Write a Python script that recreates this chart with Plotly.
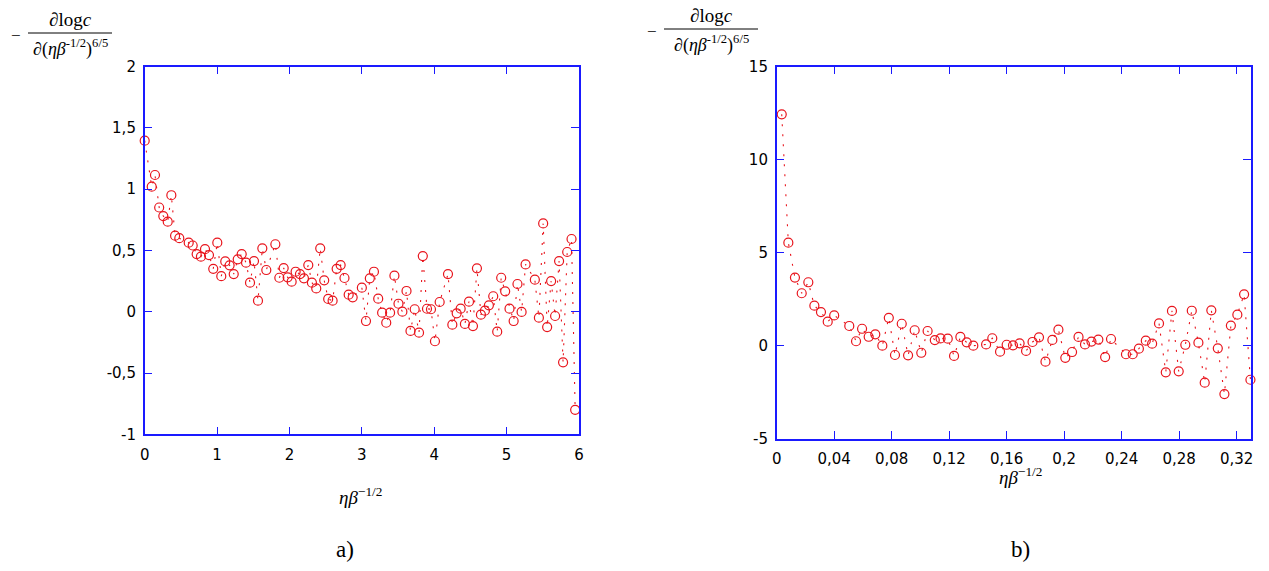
import plotly.graph_objects as go

W, H = 1269, 571

# ---- data: left panel (a) ----
xa = [0, 0.097, 0.142, 0.20, 0.257, 0.318, 0.368, 0.42, 0.478, 0.608, 0.663, 0.718, 0.777,
      0.833, 0.888, 0.947, 1.003, 1.058, 1.113, 1.173, 1.23, 1.285, 1.34, 1.40, 1.455, 1.51,
      1.565, 1.625, 1.68, 1.805, 1.86, 1.92, 1.975, 2.03, 2.085, 2.145, 2.20, 2.26, 2.31,
      2.37, 2.425, 2.48, 2.535, 2.596, 2.652, 2.707, 2.76, 2.818, 2.873, 3.0, 3.057, 3.11,
      3.167, 3.226, 3.28, 3.337, 3.39, 3.45, 3.506, 3.56, 3.617, 3.672, 3.73, 3.79, 3.842,
      3.90, 3.955, 4.01, 4.075, 4.19, 4.25, 4.31, 4.365, 4.424, 4.48, 4.535, 4.59, 4.645,
      4.70, 4.755, 4.815, 4.87, 4.925, 4.98, 5.04, 5.097, 5.15, 5.207, 5.262, 5.39, 5.446,
      5.505, 5.56, 5.615, 5.67, 5.725, 5.78, 5.837, 5.897, 5.947]
ya = [1.395, 1.02, 1.115, 0.85, 0.78, 0.734, 0.95, 0.62, 0.60, 0.563, 0.54, 0.47, 0.449,
      0.51, 0.462, 0.35, 0.563, 0.29, 0.41, 0.378, 0.307, 0.427, 0.47, 0.40, 0.237, 0.413,
      0.09, 0.517, 0.34, 0.55, 0.277, 0.356, 0.28, 0.245, 0.326, 0.307, 0.272, 0.38, 0.237,
      0.19, 0.517, 0.256, 0.104, 0.09, 0.35, 0.38, 0.275, 0.139, 0.117, 0.196, -0.076, 0.272,
      0.326, 0.106, -0.008, -0.09, -0.008, 0.294, 0.065, 0.0, 0.169, -0.157, 0.02, -0.171, 0.454,
      0.024, 0.02, -0.241, 0.079, 0.307, -0.106, -0.013, 0.025, -0.10, 0.082, -0.117, 0.354, -0.024,
      0.008, 0.052, 0.126, -0.163, 0.277, 0.166, 0.025, -0.076, 0.226, -0.002, 0.386, 0.261, -0.049,
      0.72, -0.125, 0.25, -0.035, 0.413, -0.413, 0.487, 0.593, -0.80]

# ---- data: right panel (b) ----
xb = [0.0035, 0.0081, 0.0127, 0.0174, 0.022, 0.0262, 0.0308, 0.0355, 0.040, 0.0505, 0.0552,
      0.0594, 0.064, 0.0686, 0.0735, 0.078, 0.0823, 0.087, 0.0914, 0.096, 0.1006, 0.105, 0.110,
      0.114, 0.119, 0.1234, 0.1278, 0.1322, 0.1368, 0.1457, 0.150, 0.1554, 0.16, 0.1644, 0.169,
      0.1735, 0.178, 0.1825, 0.187, 0.1918, 0.196, 0.2008, 0.2055, 0.21, 0.2145, 0.219, 0.2238,
      0.2285, 0.2326, 0.243, 0.2477, 0.252, 0.2568, 0.2612, 0.266, 0.2707, 0.275, 0.2797, 0.2843,
      0.2888, 0.2934, 0.2978, 0.3024, 0.3069, 0.3115, 0.316, 0.3205, 0.3252, 0.3296]
yb = [12.44, 5.54, 3.66, 2.82, 3.41, 2.15, 1.81, 1.29, 1.63, 1.06, 0.24, 0.91, 0.48, 0.61, 0.0,
      1.5, -0.5, 1.18, -0.52, 0.83, -0.38, 0.79, 0.30, 0.39, 0.38, -0.55, 0.47, 0.18, 0.0, 0.07,
      0.4, -0.32, 0.05, 0.02, 0.13, -0.28, 0.2, 0.45, -0.86, 0.31, 0.86, -0.65, -0.34, 0.47, 0.07,
      0.22, 0.33, -0.61, 0.36, -0.46, -0.46, -0.16, 0.27, 0.11, 1.2, -1.43, 1.87, -1.38, 0.05, 1.88,
      0.16, -1.99, 1.9, -0.14, -2.6, 1.08, 1.67, 2.76, -1.83]

# tick labels
xa_ticks = [0, 1, 2, 3, 4, 5, 6]
xa_text = ["0", "1", "2", "3", "4", "5", "6"]
ya_ticks = [-1, -0.5, 0, 0.5, 1, 1.5, 2]
ya_text = ["-1", "-0,5", "0", "0,5", "1", "1,5", "2"]
xb_ticks = [0, 0.04, 0.08, 0.12, 0.16, 0.2, 0.24, 0.28, 0.32]
xb_text = ["0", "0,04", "0,08", "0,12", "0,16", "0,2", "0,24", "0,28", "0,32"]
yb_ticks = [-5, 0, 5, 10, 15]
yb_text = ["-5", "0", "5", "10", "15"]


def px(x):
    return x / W


def py(y):
    return 1 - y / H


RED = "#e8141c"
BLUE = "#1a1aff"
TICKFONT = dict(family="DejaVu Sans", size=15, color="black")
SERIF = "Liberation Serif"

fig = go.Figure()
marker = dict(symbol="circle-open", size=9, color=RED, line=dict(width=1.2, color=RED))
line = dict(color=RED, width=1.1, dash="2px,8px")
fig.add_trace(go.Scatter(x=xa, y=ya, mode="lines+markers", marker=marker, line=line,
                         xaxis="x", yaxis="y", showlegend=False, cliponaxis=False))
fig.add_trace(go.Scatter(x=xb, y=yb, mode="lines+markers", marker=marker, line=line,
                         xaxis="x2", yaxis="y2", showlegend=False, cliponaxis=False))

axis_common = dict(showline=True, linecolor=BLUE, linewidth=1.5, mirror="ticks",
                   ticks="inside", ticklen=8, tickcolor=BLUE, tickwidth=1.2,
                   showgrid=False, zeroline=False, tickfont=TICKFONT, tickmode="array",
                   automargin=False)

fig.update_layout(
    width=W, height=H, margin=dict(l=0, r=0, t=0, b=0, pad=0, autoexpand=False),
    paper_bgcolor="white", plot_bgcolor="white",
    xaxis=dict(domain=[px(144.7), px(579)], range=[0, 6], tickvals=xa_ticks, ticktext=xa_text,
               anchor="y", ticklabelstandoff=6, **axis_common),
    yaxis=dict(domain=[py(434.3), py(66.5)], range=[-1, 2], tickvals=ya_ticks, ticktext=ya_text,
               anchor="x", ticklabelstandoff=4, **axis_common),
    xaxis2=dict(domain=[px(776.7), px(1251)], range=[0, 0.33], tickvals=xb_ticks, ticktext=xb_text,
                anchor="y2", ticklabelstandoff=6, **axis_common),
    yaxis2=dict(domain=[py(438.7), py(66.7)], range=[-5, 15], tickvals=yb_ticks, ticktext=yb_text,
                anchor="x2", ticklabelstandoff=4, **axis_common),
)

ann = []
shapes = []


def ytitle(x0, x1, ymid, xminus):
    cx = (x0 + x1) / 2
    ann.append(dict(x=px(cx), y=py(ymid - 14), xref="paper", yref="paper", showarrow=False,
                    text="∂log<i>c</i>", font=dict(family=SERIF, size=19, color="black"),
                    xanchor="center", yanchor="middle"))
    ann.append(dict(x=px(cx), y=py(ymid + 15), xref="paper", yref="paper", showarrow=False,
                    text="∂(<i>ηβ</i><sup>-1/2</sup>)<sup>6/5</sup>",
                    font=dict(family=SERIF, size=18, color="black"),
                    xanchor="center", yanchor="middle"))
    ann.append(dict(x=px(xminus), y=py(ymid + 2), xref="paper", yref="paper", showarrow=False,
                    text="−", font=dict(family=SERIF, size=17, color="black"),
                    xanchor="center", yanchor="middle"))
    shapes.append(dict(type="line", xref="paper", yref="paper", x0=px(x0), x1=px(x1),
                       y0=py(ymid), y1=py(ymid), line=dict(color="black", width=1)))


ytitle(28, 112, 33, 16)
ytitle(664, 758, 29, 652)

for cx, cy in [(360, 496), (1020, 476)]:
    ann.append(dict(x=px(cx), y=py(cy), xref="paper", yref="paper", showarrow=False,
                    text="<i>ηβ</i><sup>−1/2</sup>", font=dict(family=SERIF, size=19, color="black"),
                    xanchor="center", yanchor="middle"))

for cx, t in [(345, "a)"), (1020, "b)")]:
    ann.append(dict(x=px(cx), y=py(549), xref="paper", yref="paper", showarrow=False,
                    text=t, font=dict(family=SERIF, size=23, color="black"),
                    xanchor="center", yanchor="middle"))

fig.update_layout(annotations=ann, shapes=shapes)
fig.write_html("out.html", config={"displayModeBar": False},
               post_script="document.body.style.margin='0';document.body.style.overflow='hidden';")
